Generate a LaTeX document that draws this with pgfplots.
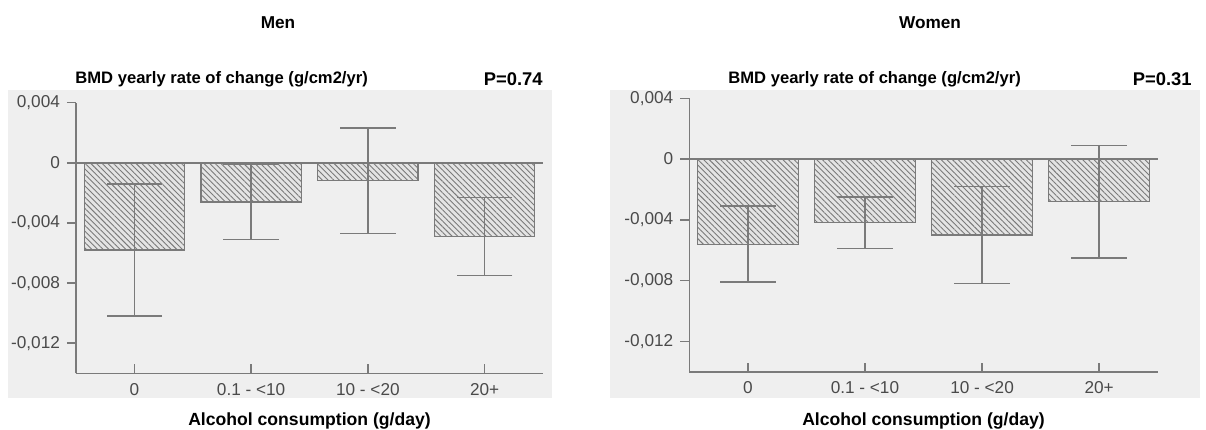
\documentclass[border=0pt]{standalone}
\usepackage{pgfplots}
\pgfplotsset{compat=1.18}
\usepackage{fontspec}
\setmainfont{Liberation Sans}
\usetikzlibrary{patterns.meta}
\definecolor{axiscol}{HTML}{7A7A7A}
\definecolor{tickcol}{HTML}{4A4A4A}
\definecolor{barfill}{HTML}{E4E4E4}
\definecolor{hatch}{HTML}{7A7A7A}
\definecolor{bgcol}{HTML}{EFEFEF}
\pgfplotsset{
  bmd/.style={
    scale only axis,
    xmin=-0.5, xmax=3.5, ymin=-0.014, ymax=0.004,
    axis x line=bottom, axis y line=left,
    axis line style={-, draw=axiscol, line width=0.8pt},
    xtick={0,1,2,3},
    xticklabels={0, 0.1 - <10, 10 - <20, 20+},
    ytick={-0.012,-0.008,-0.004,0,0.004},
    yticklabels={{-0,012},{-0,008},{-0,004},{0},{0,004}},
    scaled y ticks=false,
    tick align=outside, major tick length=4.5pt,
    tick style={draw=axiscol, line width=0.8pt},
    x tick style={yshift=4.5pt},
    tick label style={font=\fontsize{8.6}{10}\selectfont, text=tickcol},
    xticklabel style={yshift=3pt},
    ybar, bar width=0.86,
    clip=false,
  },
  bars/.style={
    draw=axiscol, line width=0.6pt, fill=barfill,
    postaction={pattern={Lines[angle=-45,distance=2pt,line width=0.45pt]}, pattern color=hatch},
    error bars/.cd, y dir=both, y explicit,
    error bar style={draw=axiscol, line width=0.8pt},
    error mark options={rotate=90, mark size=13.9pt, line width=0.8pt, draw=axiscol},
  },
}
\begin{document}
\begin{tikzpicture}
\path[use as bounding box] (0,0) rectangle (603pt,214.5pt);
\fill[bgcol] (4pt,15.5pt) rectangle (276pt,169.5pt);
\fill[bgcol] (305pt,15.5pt) rectangle (600pt,169.5pt);
% Men
\begin{axis}[bmd, at={(38pt,27.85pt)}, anchor=south west, width=233.5pt, height=135.3pt]
\addplot[bars] coordinates {
  (0,-0.0058) +- (0,0.0044)
  (1,-0.0026) +- (0,0.0025)
  (2,-0.0012) +- (0,0.0035)
  (3,-0.0049) +- (0,0.0026)
};
\draw[axiscol, line width=0.8pt] (axis cs:-0.5,0) -- (axis cs:3.5,0);
\end{axis}
% Women
\begin{axis}[bmd, at={(344.65pt,28.65pt)}, anchor=south west, width=234.2pt, height=136.7pt]
\addplot[bars] coordinates {
  (0,-0.0056) +- (0,0.0025)
  (1,-0.0042) +- (0,0.0017)
  (2,-0.0050) +- (0,0.0032)
  (3,-0.0028) +- (0,0.0037)
};
\draw[axiscol, line width=0.8pt] (axis cs:-0.5,0) -- (axis cs:3.5,0);
\end{axis}
% texts
\node[font=\bfseries\fontsize{8.6}{10}\selectfont] at (139pt,203pt) {Men};
\node[font=\bfseries\fontsize{8.6}{10}\selectfont] at (465pt,203pt) {Women};
\node[anchor=west, inner sep=0pt, font=\bfseries\fontsize{8.3}{10}\selectfont] at (37.5pt,175pt) {BMD yearly rate of change (g/cm2/yr)};
\node[anchor=east, inner sep=0pt, font=\bfseries\fontsize{9.2}{10}\selectfont] at (271.5pt,175pt) {P=0.74};
\node[anchor=west, inner sep=0pt, font=\bfseries\fontsize{8.3}{10}\selectfont] at (364pt,175pt) {BMD yearly rate of change (g/cm2/yr)};
\node[anchor=east, inner sep=0pt, font=\bfseries\fontsize{9.2}{10}\selectfont] at (596pt,175pt) {P=0.31};
\node[inner sep=0pt, font=\bfseries\fontsize{8.8}{10}\selectfont] at (154.75pt,4.2pt) {Alcohol consumption (g/day)};
\node[inner sep=0pt, font=\bfseries\fontsize{8.8}{10}\selectfont] at (461.75pt,4.2pt) {Alcohol consumption (g/day)};
\end{tikzpicture}
\end{document}
